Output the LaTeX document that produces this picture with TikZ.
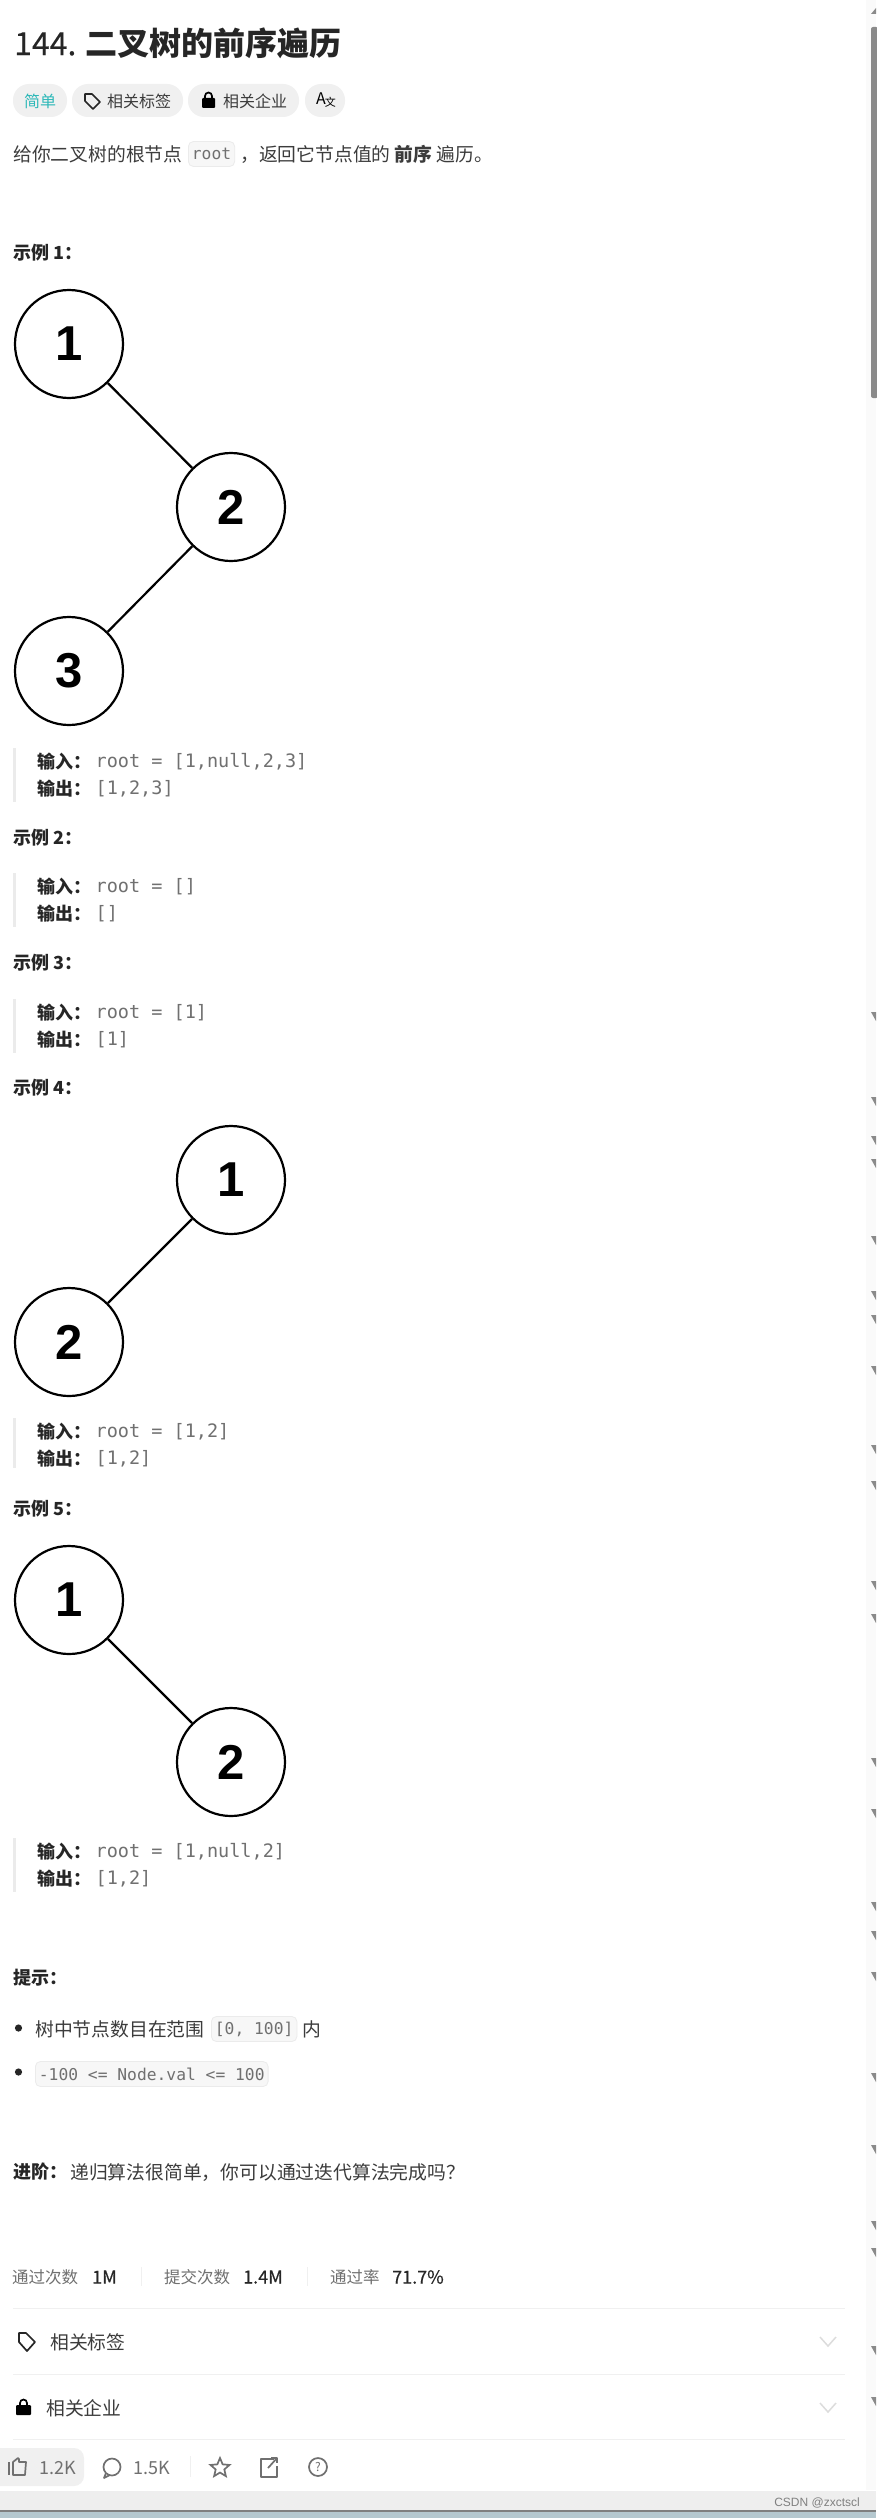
\documentclass[tikz,border=0pt]{standalone}
\usepackage{fontspec}
\usetikzlibrary{shapes.geometric}
\setmainfont{Noto Sans CJK SC}
\setmonofont{DejaVu Sans Mono}
\newfontfamily\treefont{Liberation Sans}
\newfontfamily\medfont[FakeBold=0.35]{Noto Sans CJK SC}

\definecolor{inkdark}{HTML}{262626}
\definecolor{inkmid}{HTML}{3C3C3C}
\definecolor{inkcode}{HTML}{707070}
\definecolor{pillgray}{HTML}{F0F0F0}
\definecolor{codefill}{HTML}{F7F7F7}
\definecolor{codeline}{HTML}{EBEBEB}
\definecolor{leetteal}{HTML}{2DB8B8}
\definecolor{rulegray}{HTML}{F0F0F0}
\definecolor{chevgray}{HTML}{DCDCDC}
\definecolor{barback}{HTML}{EEEEEE}
\definecolor{deskblue}{HTML}{B5C8CF}
\definecolor{markgray}{HTML}{8A8A8A}
\definecolor{trackgray}{HTML}{FAFAFA}

\tikzset{
  treenode/.style={circle, draw=black, line width=2.2pt, fill=white, minimum size=108pt, inner sep=0pt, font=\treefont\fontsize{49}{49}\selectfont\bfseries},
  treeedge/.style={line width=2.2pt, black},
  txt/.style={anchor=west, inner sep=0pt, text=inkmid, font=\fontsize{18.8}{22}\selectfont},
  heading/.style={txt, text=inkdark, font=\fontsize{18}{22}\selectfont\bfseries},
  pilltxt/.style={txt, font=\fontsize{16}{18}\selectfont},
  codetxt/.style={anchor=west, inner sep=0pt, text=inkcode, font=\ttfamily\fontsize{18.5}{22}\selectfont},
  codebox/.style={anchor=west, text=inkcode, font=\ttfamily\fontsize{16.3}{20}\selectfont, fill=codefill, draw=codeline, rounded corners=5pt, inner xsep=3.5pt, inner ysep=0pt, minimum height=25pt, line width=0.8pt},
  pill/.style={fill=pillgray, rounded corners=16pt},
  quotebar/.style={line width=3pt, codeline},
  hairline/.style={line width=1pt, rulegray},
  stat/.style={txt, text=inkcode, font=\fontsize{16.5}{20}\selectfont},
  statval/.style={txt, text=inkdark, font=\medfont\fontsize{18}{20}\selectfont},
  bartxt/.style={txt, text=inkcode, font=\fontsize{18}{20}\selectfont},
  glyph/.style={line width=1.7pt, inkdark, line join=round},
  softglyph/.style={line width=1.7pt, inkcode, line join=round},
  chevron/.style={line width=1.5pt, chevgray}
}

\begin{document}
\begin{tikzpicture}[x=1pt, y=-1pt]
\useasboundingbox (0,0) rectangle (876,2518);
\fill[white] (0,0) rectangle (876,2518);

% scrollbar
\fill[trackgray] (866,0) rectangle (876,2490);
\fill[markgray, rounded corners=2pt] (871,27) rectangle (878,398);
\fill[markgray] (871,14) -- (876,8) -- (876,14) -- cycle;
\foreach \ymark in {1016,1101,1140,1163,1240,1295,1319,1370,1449,1485,1585,1618,1762,1813,1906,1935,1976,2077,2149,2225,2252,2350,2401}
  \fill[markgray] (871,\ymark-4) -- (876,\ymark-4) -- (876,\ymark+5) -- cycle;

% title and pills
\node[anchor=west, inner sep=0pt, text=inkdark, font=\medfont\fontsize{32}{36}\selectfont] (title) at (14,43) {144. \textbf{\rmfamily 二叉树的前序遍历}};
\fill[pill] (13,84) rectangle (67,117);
\fill[pill] (72,84) rectangle (183,117);
\fill[pill] (188,84) rectangle (299,117);
\fill[pill] (305,84) rectangle (345,117);
\node[pilltxt, text=leetteal] (easy) at (24,101) {简单};
\node[pilltxt] (tags) at (107,101) {相关标签};
\node[pilltxt] (firms) at (223,101) {相关企业};
\node[pilltxt, text=black] (lang) at (316,100) {A\hspace{-1pt}\raisebox{-2pt}{\fontsize{11}{11}\selectfont 文}};
\draw[glyph] (85,94) -- (92,94) -- (100,102) -- (93,109) -- (85,101) -- cycle; % tag icon
\fill[black, rounded corners=1pt] (202,98) rectangle (215,108); % lock body
\draw[line width=1.7pt, black] (205,98) -- (205,96) arc[start angle=180, end angle=360, radius=3.5] -- (212,98);

\node[txt] (intro) at (13,154) {给你二叉树的根节点};
\node[codebox] (rootcode) at (188,154) {root};
\node[txt] (introb) at (240,154) {，返回它节点值的 \textbf{前序} 遍历。};

% example 1
\node[heading] (ex1) at (13,253) {示例 1：};
\node[treenode] (a1) at (69,344) {1};
\node[treenode] (a2) at (231,507) {2};
\node[treenode] (a3) at (69,671) {3};
\draw[treeedge] (a1) -- (a2);
\draw[treeedge] (a2) -- (a3);
\draw[quotebar] (14.5,748) -- (14.5,802);
\node[heading] (in1) at (37,762) {输入：};
\node[codetxt] (in1v) at (95.5,762) {root = [1,null,2,3]};
\node[heading] (out1) at (37,789) {输出：};
\node[codetxt] (out1v) at (95.5,789) {[1,2,3]};

% example 2
\node[heading] (ex2) at (13,838) {示例 2：};
\draw[quotebar] (14.5,873) -- (14.5,927);
\node[heading] (in2) at (37,887) {输入：};
\node[codetxt] (in2v) at (95.5,887) {root = []};
\node[heading] (out2) at (37,914) {输出：};
\node[codetxt] (out2v) at (95.5,914) {[]};

% example 3
\node[heading] (ex3) at (13,963) {示例 3：};
\draw[quotebar] (14.5,999) -- (14.5,1053);
\node[heading] (in3) at (37,1013) {输入：};
\node[codetxt] (in3v) at (95.5,1013) {root = [1]};
\node[heading] (out3) at (37,1040) {输出：};
\node[codetxt] (out3v) at (95.5,1040) {[1]};

% example 4
\node[heading] (ex4) at (13,1088) {示例 4：};
\node[treenode] (b1) at (231,1180) {1};
\node[treenode] (b2) at (69,1342) {2};
\draw[treeedge] (b1) -- (b2);
\draw[quotebar] (14.5,1418) -- (14.5,1468);
\node[heading] (in4) at (37,1432) {输入：};
\node[codetxt] (in4v) at (95.5,1432) {root = [1,2]};
\node[heading] (out4) at (37,1459) {输出：};
\node[codetxt] (out4v) at (95.5,1459) {[1,2]};

% example 5
\node[heading] (ex5) at (13,1509) {示例 5：};
\node[treenode] (c1) at (69,1600) {1};
\node[treenode] (c2) at (231,1762) {2};
\draw[treeedge] (c1) -- (c2);
\draw[quotebar] (14.5,1838) -- (14.5,1892);
\node[heading] (in5) at (37,1852) {输入：};
\node[codetxt] (in5v) at (95.5,1852) {root = [1,null,2]};
\node[heading] (out5) at (37,1879) {输出：};
\node[codetxt] (out5v) at (95.5,1879) {[1,2]};

% hints
\node[heading] (hint) at (13,1978) {提示：};
\fill[inkdark] (18.5,2028) circle (3.6);
\node[txt] (hint1) at (35,2029) {树中节点数目在范围};
\node[codebox] (hint1c) at (211,2029) {[0, 100]};
\node[txt] (hint1b) at (302,2029) {内};
\fill[inkdark] (18.5,2072) circle (3.6);
\node[codebox] (hint2c) at (35,2074) {-100 <= Node.val <= 100};
\node[heading] (adv) at (13,2172) {进阶：};
\node[txt] (advb) at (70,2172) {递归算法很简单，你可以通过迭代算法完成吗？};

% stats
\node[stat] (passl) at (12,2277) {通过次数};
\node[statval] (passv) at (92,2277) {1M};
\draw[hairline] (141,2267) -- (141,2286);
\node[stat] (subl) at (164,2277) {提交次数};
\node[statval] (subv) at (243,2277) {1.4M};
\draw[hairline] (307,2267) -- (307,2286);
\node[stat] (ratel) at (330,2277) {通过率};
\node[statval] (ratev) at (392,2277) {71.7\%};
\draw[hairline] (13,2308) -- (845,2308);

% collapsed rows
\draw[glyph] (19,2333) -- (26,2333) -- (35,2342) -- (27,2351) -- (19,2342) -- cycle; % tag icon
\node[txt] (rowtags) at (50,2342) {相关标签};
\draw[chevron] (820,2337) -- (828,2346) -- (836,2337);
\draw[hairline] (13,2374) -- (845,2374);
\fill[black, rounded corners=1pt] (16,2405) rectangle (31,2415); % lock body
\draw[line width=1.7pt, black] (20,2405) -- (20,2403) arc[start angle=180, end angle=360, radius=3.5] -- (27,2405);
\node[txt] (rowfirms) at (46,2408) {相关企业};
\draw[chevron] (820,2403) -- (828,2412) -- (836,2403);
\draw[hairline] (13,2439) -- (845,2439);

% bottom bar
\fill[pillgray, rounded corners=10pt] (-12,2448) rectangle (84,2486);
\draw[softglyph] (9,2462) -- (9,2475); % thumb icon
\draw[softglyph] (13,2475) -- (13,2462) -- (18,2458) -- (19,2459) -- (19,2462) -- (26,2462) -- (25,2475) -- cycle;
\node[bartxt] (likes) at (39,2468) {1.2K};
\draw[softglyph] (112,2467) circle (8.5); % comment icon
\draw[softglyph] (106,2473) -- (104,2478) -- (110,2475);
\node[bartxt] (talks) at (133,2468) {1.5K};
\draw[hairline] (190,2456) -- (190,2477);
\node[star, star points=5, star point ratio=2.2, draw=inkcode, line width=1.7pt, minimum size=20pt, inner sep=0pt] (staricon) at (220,2468) {};
\draw[softglyph] (274,2459) -- (261,2459) -- (261,2477) -- (277,2477) -- (277,2466); % share icon
\draw[softglyph] (268,2468) -- (277,2458);
\draw[softglyph] (271,2458) -- (277,2458) -- (277,2463);
\node[circle, draw=inkcode, line width=1.7pt, minimum size=18pt, inner sep=0pt, text=inkcode, font=\fontsize{12}{12}\selectfont] (helpicon) at (318,2467) {?};

% window edge
\fill[barback] (0,2491) rectangle (876,2510);
\fill[deskblue] (0,2510) rectangle (876,2518);
\fill[gray] (0,2510) rectangle (876,2511.5);
\node[anchor=east, inner sep=0pt, text=gray, font=\treefont\fontsize{12}{12}\selectfont] (mark) at (860,2503) {CSDN @zxctscl};
\end{tikzpicture}
\end{document}
